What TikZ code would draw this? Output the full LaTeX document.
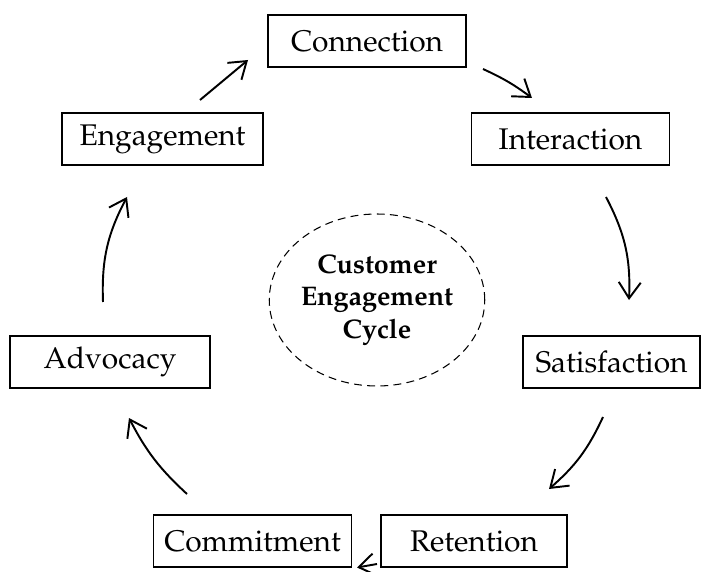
\documentclass[tikz,border=0pt]{standalone}
\usepackage[T1]{fontenc}
\usepackage{mathpazo}
\usepackage{tikz}
\usetikzlibrary{arrows.meta, shapes.geometric}

\tikzset{
  stage/.style={draw, line width=0.8pt, minimum width=3.96cm, minimum height=1.04cm, inner sep=0pt, font=\fontsize{17}{20}\selectfont},
  cyc/.style={-{Straight Barb[length=3.2mm, width=4.4mm]}, line width=1.1pt}
}

\begin{document}
\begin{tikzpicture}
\useasboundingbox (0,0) rectangle (14.22,11.42);
\node[stage] (C) at (7.34,10.60) {Connection};
\node[stage] (I) at (11.41,8.64) {Interaction};
\node[stage, minimum width=3.54cm] (S) at (12.23,4.18) {Satisfaction};
\node[stage, minimum width=3.72cm] (R) at (9.48,0.60) {Retention};
\node[stage] (M) at (5.05,0.60) {Commitment};
\node[stage, minimum width=4cm] (A) at (2.20,4.18) {Advocacy};
\node[stage, minimum width=4.02cm] (E) at (3.25,8.64) {Engagement};
\node[draw, ellipse, line width=0.6pt, dash pattern=on 4.5pt off 3pt, inner sep=0pt, minimum width=4.3cm, minimum height=3.44cm, align=center,
  font=\fontsize{15.3}{18.5}\selectfont\bfseries] (mid) at (7.54,5.42) {Customer\\Engagement\\Cycle};

\coordinate (e1) at (4.00,9.42);  \coordinate (c0) at (4.96,10.22);
\coordinate (c1) at (9.66,10.04); \coordinate (i0) at (10.64,9.46);
\coordinate (i1) at (12.12,7.48); \coordinate (s0) at (12.58,5.42);
\coordinate (s1) at (12.06,3.08); \coordinate (r0) at (10.98,1.64);
\coordinate (r1) at (7.54,0.14);  \coordinate (m0) at (7.14,0.07);
\coordinate (m1) at (3.74,1.54);  \coordinate (a0) at (2.58,3.06);
\coordinate (a1) at (2.06,5.38);  \coordinate (e0) at (2.54,7.48);

\draw[cyc] (e1) to (c0);
\draw[cyc] (c1) to[bend left=6] (i0);
\draw[cyc] (i1) to[bend left=15] (s0);
\draw[cyc] (s1) to[bend left=12] (r0);
\draw[cyc] (r1) to (m0);
\draw[cyc] (m1) to[bend left=10] (a0);
\draw[cyc] (a1) to[bend left=15] (e0);
\end{tikzpicture}
\end{document}
